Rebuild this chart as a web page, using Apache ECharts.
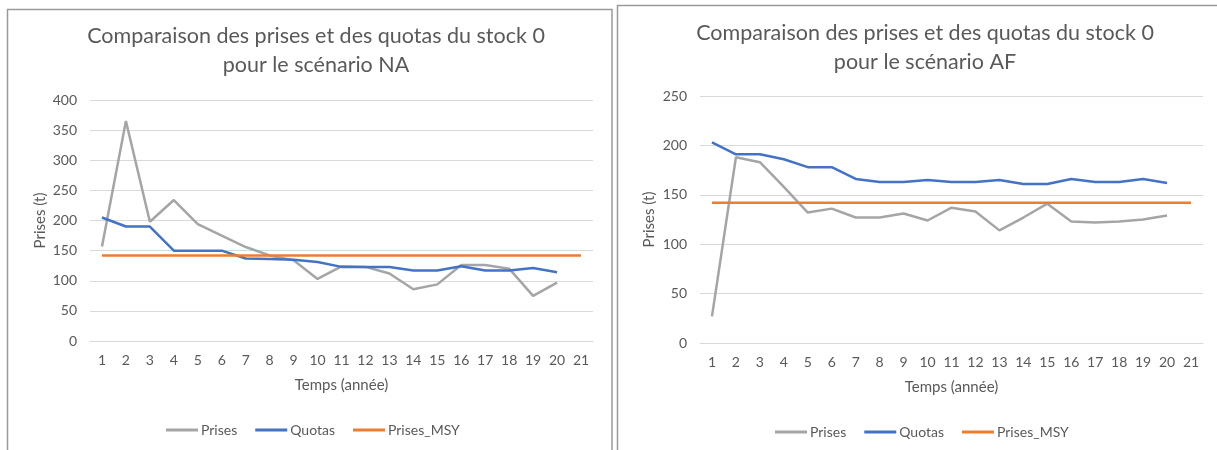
<!DOCTYPE html>
<html>
<head>
<meta charset="utf-8">
<script src="https://cdn.jsdelivr.net/npm/echarts@6/dist/echarts.min.js"></script>
<style>
  html, body { margin: 0; padding: 0; background: #ffffff; }
  #chart { width: 1217px; height: 450px; }
</style>
</head>
<body>
<div id="chart"></div>
<script>
// Years of the simulation (x axis)
const years = ['1','2','3','4','5','6','7','8','9','10','11','12','13','14','15','16','17','18','19','20','21'];

// Scenario NA — catches, quotas and MSY catch level (t)
const prisesNA = [157, 365, 198, 234, 194, 175, 156, 142, 134, 103, 124, 123, 112, 86, 94, 126, 126, 120, 75, 97];
const quotasNA = [205, 190, 190, 150, 150, 150, 137, 136, 135, 131, 123, 123, 123, 117, 117, 124, 117, 117, 121, 114];
const msyNA    = [142, 142, 142, 142, 142, 142, 142, 142, 142, 142, 142, 142, 142, 142, 142, 142, 142, 142, 142, 142, 142];

// Scenario AF — catches, quotas and MSY catch level (t)
const prisesAF = [27, 188, 183, 158, 132, 136, 127, 127, 131, 124, 137, 133, 114, 127, 141, 123, 122, 123, 125, 129];
const quotasAF = [203, 191, 191, 186, 178, 178, 166, 163, 163, 165, 163, 163, 165, 161, 161, 166, 163, 163, 166, 162];
const msyAF    = [142, 142, 142, 142, 142, 142, 142, 142, 142, 142, 142, 142, 142, 142, 142, 142, 142, 142, 142, 142, 142];

// Y axis ranges
const yMaxNA = 400;
const yMaxAF = 250;
const yStep = 50;

const FONT = 'Lato';
const TEXT = '#595959';
const GRID_LINE = '#d9d9d9';
const C_PRISES = '#a5a5a5';
const C_QUOTAS = '#4472c4';
const C_MSY = '#ed7d31';

function xAxisFor(gridIndex) {
  return {
    type: 'category',
    gridIndex: gridIndex,
    data: years,
    boundaryGap: true,
    axisLine: { show: true, lineStyle: { color: GRID_LINE, width: 1 } },
    axisTick: { show: false },
    axisLabel: { color: TEXT, fontSize: 14, fontFamily: FONT, margin: 12, interval: 0 },
    name: 'Temps (année)',
    nameLocation: 'middle',
    nameGap: 37,
    nameTextStyle: { color: TEXT, fontSize: 15, fontFamily: FONT }
  };
}

function yAxisFor(gridIndex, max, gap) {
  return {
    type: 'value',
    gridIndex: gridIndex,
    min: 0,
    max: max,
    interval: yStep,
    axisLine: { show: false },
    axisTick: { show: false },
    splitLine: { show: true, lineStyle: { color: GRID_LINE, width: 1 } },
    axisLabel: { color: TEXT, fontSize: 14, fontFamily: FONT, margin: 13 },
    name: 'Prises (t)',
    nameLocation: 'middle',
    nameGap: gap,
    nameTextStyle: { color: TEXT, fontSize: 15, fontFamily: FONT }
  };
}

function lineSeries(name, data, color, idx) {
  return {
    name: name,
    type: 'line',
    xAxisIndex: idx,
    yAxisIndex: idx,
    data: data,
    symbol: 'none',
    smooth: false,
    lineStyle: { color: color, width: 2.5 },
    itemStyle: { color: color },
    emphasis: { disabled: true },
    animation: false
  };
}

function legendAt(left, top) {
  return {
    left: left,
    top: top,
    padding: 0,
    icon: 'rect',
    itemWidth: 32,
    itemHeight: 3,
    itemGap: 18,
    data: ['Prises', 'Quotas', 'Prises_MSY'],
    textStyle: { color: TEXT, fontSize: 14, fontFamily: FONT, padding: [0, 0, 0, -2] }
  };
}

function titleAt(x, top, text) {
  return {
    text: text,
    left: x,
    top: top,
    textAlign: 'center',
    textStyle: { color: TEXT, fontSize: 21.5, fontWeight: 'normal', fontFamily: FONT, lineHeight: 29 }
  };
}

const chart = echarts.init(document.getElementById('chart'), null, { renderer: 'canvas' });

chart.setOption({
  backgroundColor: '#ffffff',
  animation: false,
  title: [
    titleAt(311, 17, 'Comparaison des prises et des quotas du stock 0\npour le scénario NA'),
    titleAt(920, 14, 'Comparaison des prises et des quotas du stock 0\npour le scénario AF')
  ],
  legend: [legendAt(166, 423), legendAt(775, 425)],
  grid: [
    { left: 90, top: 100, width: 503, height: 241 },
    { left: 700, top: 96, width: 503, height: 247 }
  ],
  xAxis: [xAxisFor(0), xAxisFor(1)],
  yAxis: [yAxisFor(0, yMaxNA, 42), yAxisFor(1, yMaxAF, 43)],
  series: [
    lineSeries('Prises', prisesNA, C_PRISES, 0),
    lineSeries('Quotas', quotasNA, C_QUOTAS, 0),
    lineSeries('Prises_MSY', msyNA, C_MSY, 0),
    lineSeries('Prises', prisesAF, C_PRISES, 1),
    lineSeries('Quotas', quotasAF, C_QUOTAS, 1),
    lineSeries('Prises_MSY', msyAF, C_MSY, 1)
  ],
  graphic: [
    // panel frames
    { type: 'rect', shape: { x: 7.5, y: 9.5, width: 604.5, height: 460 }, style: { fill: 'none', stroke: '#9a9a9a', lineWidth: 1.5 }, silent: true, z: 100 },
    { type: 'rect', shape: { x: 617.5, y: 5.5, width: 620, height: 460 }, style: { fill: 'none', stroke: '#9a9a9a', lineWidth: 1.5 }, silent: true, z: 100 }
  ]
});
</script>
</body>
</html>
